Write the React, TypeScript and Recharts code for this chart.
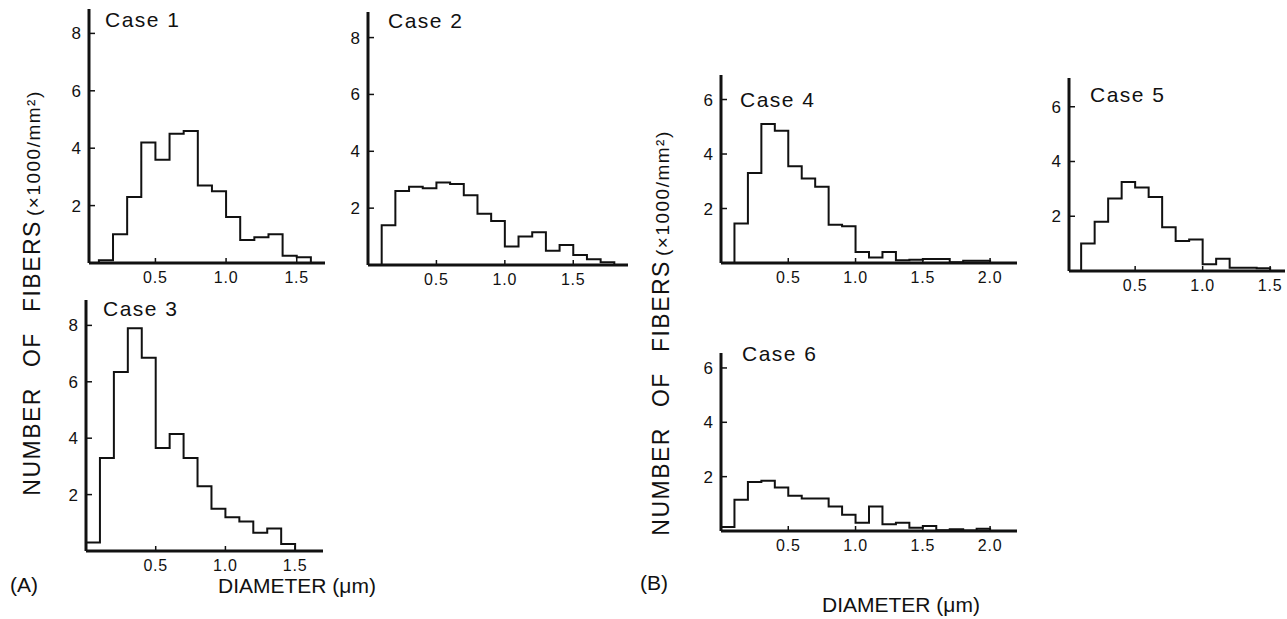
import React from 'react';
import { LineChart, Line, XAxis, YAxis } from 'recharts';

// bin width of every histogram (µm)
const BIN = 0.1;

// fibre counts (x1000/mm²) per 0.1 µm bin, starting at the given diameter
const case1Start = 0.1;
const case1Values = [0.1, 1.0, 2.3, 4.2, 3.6, 4.5, 4.6, 2.7, 2.5, 1.6, 0.8, 0.9, 1.0, 0.25, 0.2];
const case2Start = 0.1;
const case2Values = [1.4, 2.6, 2.75, 2.7, 2.9, 2.85, 2.45, 1.8, 1.55, 0.65, 1.0, 1.15, 0.5, 0.7, 0.35, 0.2, 0.1];
const case3Start = 0.0;
const case3Values = [0.3, 3.3, 6.35, 7.9, 6.85, 3.65, 4.15, 3.3, 2.3, 1.5, 1.2, 1.05, 0.65, 0.8, 0.25];
const case4Start = 0.1;
const case4Values = [1.45, 3.3, 5.1, 4.85, 3.55, 3.1, 2.8, 1.4, 1.35, 0.4, 0.2, 0.4, 0.1, 0.12, 0.15, 0.15, 0.03, 0.08, 0.08];
const case5Start = 0.1;
const case5Values = [1.0, 1.8, 2.65, 3.25, 3.05, 2.7, 1.6, 1.1, 1.15, 0.25, 0.45, 0.12, 0.12, 0.1];
const case6Start = 0.0;
const case6Values = [0.15, 1.15, 1.8, 1.85, 1.6, 1.3, 1.2, 1.2, 0.9, 0.6, 0.3, 0.9, 0.25, 0.3, 0.12, 0.18, 0.03, 0.06, 0.02, 0.08];

// tick labels
const xTicksShort = [0.5, 1.0, 1.5];
const xTicksLong = [0.5, 1.0, 1.5, 2.0];
const yTicksA = [2, 4, 6, 8];
const yTicksB = [2, 4, 6];

const FONT = '"Liberation Sans", Arial, Helvetica, sans-serif';
const INK = '#111';

// turn bins into points for a stepAfter outline
const toSteps = (start: number, values: number[]) => {
  const pts = [{ x: start, y: 0 }];
  values.forEach((v, i) => pts.push({ x: +(start + i * BIN).toFixed(2), y: v }));
  pts.push({ x: +(start + values.length * BIN).toFixed(2), y: 0 });
  return pts;
};

interface PanelDef {
  title: string;
  data: { x: number; y: number }[];
  left: number; top: number; right: number; bottom: number;
  xDomain: [number, number];
  yMax: number;
  xTicks: number[];
  yTicks: number[];
  titleX: number; titleY: number;
}

const panels: PanelDef[] = [
  { title: 'Case 1', data: toSteps(case1Start, case1Values), left: 89, top: 9, right: 325, bottom: 263,
    xDomain: [0.03, 1.7], yMax: 8.85, xTicks: xTicksShort, yTicks: yTicksA, titleX: 105, titleY: 27 },
  { title: 'Case 2', data: toSteps(case2Start, case2Values), left: 368, top: 12, right: 628, bottom: 265,
    xDomain: [0, 1.9], yMax: 8.9, xTicks: xTicksShort, yTicks: yTicksA, titleX: 388, titleY: 28 },
  { title: 'Case 3', data: toSteps(case3Start, case3Values), left: 86, top: 300, right: 323, bottom: 551,
    xDomain: [0, 1.7], yMax: 8.9, xTicks: xTicksShort, yTicks: yTicksA, titleX: 103, titleY: 316 },
  { title: 'Case 4', data: toSteps(case4Start, case4Values), left: 721, top: 75, right: 1017, bottom: 263,
    xDomain: [0, 2.2], yMax: 6.9, xTicks: xTicksLong, yTicks: yTicksB, titleX: 740, titleY: 107 },
  { title: 'Case 5', data: toSteps(case5Start, case5Values), left: 1069, top: 78, right: 1285, bottom: 271,
    xDomain: [0.01, 1.61], yMax: 7.05, xTicks: xTicksShort, yTicks: yTicksB, titleX: 1090, titleY: 102 },
  { title: 'Case 6', data: toSteps(case6Start, case6Values), left: 721, top: 353, right: 1017, bottom: 531,
    xDomain: [0, 2.2], yMax: 6.55, xTicks: xTicksLong, yTicks: yTicksB, titleX: 742, titleY: 361 },
];

const Y_W = 40;
const X_H = 30;
const PAD_T = 6;
const PAD_R = 2;

const XTick = (props: any) => {
  const { x, y, payload } = props;
  return (
    <g>
      <line x1={x} x2={x} y1={y} y2={y - 5} stroke={INK} strokeWidth={1.5} />
      <text x={x} y={y + 20} textAnchor="middle" fontSize={16} fontFamily={FONT} fill={INK} letterSpacing={0.8}>
        {Number(payload.value).toFixed(1)}
      </text>
    </g>
  );
};

const YTick = (props: any) => {
  const { x, y, payload } = props;
  return (
    <g>
      <line x1={x} x2={x + 6} y1={y} y2={y} stroke={INK} strokeWidth={1.5} />
      <text x={x - 8} y={y + 6} textAnchor="end" fontSize={17} fontFamily={FONT} fill={INK}>
        {payload.value}
      </text>
    </g>
  );
};

const Panel = ({ p }: { p: PanelDef }) => {
  const w = p.right - p.left + Y_W + PAD_R;
  const h = p.bottom - p.top + PAD_T + X_H;
  return (
    <div style={{ position: 'absolute', left: p.left - Y_W, top: p.top - PAD_T }}>
      <LineChart width={w} height={h} data={p.data} margin={{ top: PAD_T, right: PAD_R, bottom: 0, left: 0 }}>
        <XAxis
          type="number"
          dataKey="x"
          domain={p.xDomain}
          ticks={p.xTicks}
          interval={0}
          allowDataOverflow
          height={X_H}
          tickLine={false}
          tickSize={0}
          tickMargin={0}
          axisLine={{ stroke: INK, strokeWidth: 3 }}
          tick={(t: any) => <XTick {...t} />}
        />
        <YAxis
          type="number"
          domain={[0, p.yMax]}
          ticks={p.yTicks}
          interval={0}
          allowDataOverflow
          width={Y_W}
          tickLine={false}
          tickSize={0}
          tickMargin={0}
          axisLine={{ stroke: INK, strokeWidth: 3 }}
          tick={(t: any) => <YTick {...t} />}
        />
        <Line type="stepAfter" dataKey="y" stroke={INK} strokeWidth={2} dot={false} isAnimationActive={false} />
      </LineChart>
    </div>
  );
};

const VerticalLabel = ({ cx, cy }: { cx: number; cy: number }) => (
  <text
    transform={`translate(${cx},${cy}) rotate(-90)`}
    textAnchor="middle"
    fontFamily={FONT}
    fill={INK}
    letterSpacing={1.5}
  >
    <tspan fontSize={23}>NUMBER</tspan>
    <tspan fontSize={23} dx={20}>OF</tspan>
    <tspan fontSize={23} dx={20}>FIBERS</tspan>
    <tspan fontSize={19} dx={4}>(×1000/mm²)</tspan>
  </text>
);

export default function App() {
  return (
    <div style={{ position: 'absolute', left: 0, top: 0, width: 1287, height: 619, background: '#fff', overflow: 'hidden' }}>
      {panels.map((p) => <Panel key={p.title} p={p} />)}
      <svg width={1287} height={619} style={{ position: 'absolute', left: 0, top: 0, pointerEvents: 'none' }}>
        {panels.map((p) => (
          <text key={p.title} x={p.titleX} y={p.titleY} fontSize={21} fontFamily={FONT} fill={INK}
            textLength={74} lengthAdjust="spacing">
            {p.title}
          </text>
        ))}
        <VerticalLabel cx={40} cy={293} />
        <VerticalLabel cx={669} cy={333} />
        <text x={10} y={592} fontSize={21} fontFamily={FONT} fill={INK}>(A)</text>
        <text x={640} y={590} fontSize={21} fontFamily={FONT} fill={INK}>(B)</text>
        <text x={218} y={593} fontSize={21} fontFamily={FONT} fill={INK}>DIAMETER (μm)</text>
        <text x={822} y={612} fontSize={21} fontFamily={FONT} fill={INK}>DIAMETER (μm)</text>
      </svg>
    </div>
  );
}
